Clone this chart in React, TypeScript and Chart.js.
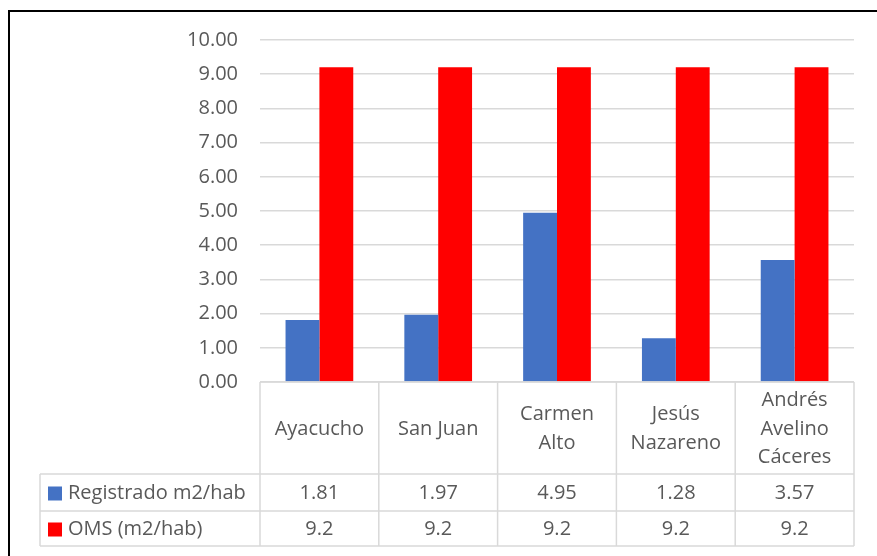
import React, { useEffect, useRef } from "react";
import { Chart, registerables } from "chart.js";

Chart.register(...registerables);

const categories: string[][] = [
  ["Ayacucho"],
  ["San Juan"],
  ["Carmen", "Alto"],
  ["Jesús", "Nazareno"],
  ["Andrés", "Avelino", "Cáceres"],
];
const registrado: number[] = [1.81, 1.97, 4.95, 1.28, 3.57];
const oms: number[] = [9.2, 9.2, 9.2, 9.2, 9.2];
const registradoLabels: string[] = ["1.81", "1.97", "4.95", "1.28", "3.57"];
const omsLabels: string[] = ["9.2", "9.2", "9.2", "9.2", "9.2"];
const seriesNames: string[] = ["Registrado m2/hab", "OMS (m2/hab)"];
const seriesColors: string[] = ["#4472C4", "#FF0000"];

const FONT = "'Open Sans', sans-serif";
const TEXT_COLOR = "#595959";
const LINE_COLOR = "#d9d9d9";

const tablePlugin = {
  id: "dataTable",
  afterDraw(chart: any) {
    const ctx = chart.ctx as CanvasRenderingContext2D;
    const area = chart.chartArea;
    const xs = chart.scales.x;
    const n = categories.length;
    const colW = (area.right - area.left) / n;
    const top = area.bottom;
    const headerBottom = top + 92;
    const row1Bottom = headerBottom + 37;
    const row2Bottom = row1Bottom + 35;
    const legendLeft = 40;

    ctx.save();
    ctx.strokeStyle = LINE_COLOR;
    ctx.lineWidth = 1.5;
    ctx.beginPath();
    ctx.moveTo(area.left, top);
    ctx.lineTo(area.right, top);
    [headerBottom, row1Bottom, row2Bottom].forEach((y) => {
      ctx.moveTo(legendLeft, y);
      ctx.lineTo(area.right, y);
    });
    for (let i = 0; i <= n; i++) {
      const x = area.left + i * colW;
      ctx.moveTo(x, top);
      ctx.lineTo(x, row2Bottom);
    }
    ctx.moveTo(legendLeft, headerBottom);
    ctx.lineTo(legendLeft, row2Bottom);
    ctx.stroke();

    ctx.fillStyle = TEXT_COLOR;
    ctx.font = `20px ${FONT}`;
    ctx.textAlign = "center";
    ctx.textBaseline = "middle";
    const lineH = 28.5;
    const headerMid = (top + headerBottom) / 2 + 1;
    categories.forEach((lines, i) => {
      const cx = xs.getPixelForValue(i);
      const startY = headerMid - ((lines.length - 1) * lineH) / 2;
      lines.forEach((ln, j) => ctx.fillText(ln, cx, startY + j * lineH));
    });
    const r1 = (headerBottom + row1Bottom) / 2 + 1;
    const r2 = (row1Bottom + row2Bottom) / 2 + 1;
    registradoLabels.forEach((t, i) => ctx.fillText(t, xs.getPixelForValue(i), r1));
    omsLabels.forEach((t, i) => ctx.fillText(t, xs.getPixelForValue(i), r2));

    ctx.textAlign = "left";
    [r1, r2].forEach((y, k) => {
      ctx.fillStyle = seriesColors[k];
      ctx.fillRect(48, y - 7, 14, 14);
      ctx.fillStyle = TEXT_COLOR;
      ctx.fillText(seriesNames[k], 68, y);
    });
    ctx.restore();
  },
};

export default function App() {
  const ref = useRef<HTMLCanvasElement | null>(null);
  useEffect(() => {
    if (!ref.current) return;
    const chart = new Chart(ref.current, {
      type: "bar",
      data: {
        labels: categories.map((c) => c.join(" ")),
        datasets: [
          {
            label: seriesNames[0],
            data: registrado,
            backgroundColor: seriesColors[0],
            categoryPercentage: 0.57,
            barPercentage: 1,
          },
          {
            label: seriesNames[1],
            data: oms,
            backgroundColor: seriesColors[1],
            categoryPercentage: 0.57,
            barPercentage: 1,
          },
        ],
      },
      options: {
        animation: false,
        responsive: true,
        maintainAspectRatio: false,
        layout: { padding: { left: 0, right: 23, top: 40, bottom: 174 } },
        plugins: {
          legend: { display: false },
          tooltip: { enabled: false },
        },
        scales: {
          x: { display: false },
          y: {
            min: 0,
            max: 10,
            ticks: {
              stepSize: 1,
              padding: 22,
              color: TEXT_COLOR,
              font: { family: FONT, size: 20 },
              callback: (v: any) => Number(v).toFixed(2),
            },
            grid: { color: LINE_COLOR, lineWidth: 1.5, drawTicks: false },
            border: { display: false },
            afterFit: (axis: any) => {
              axis.width = 260;
            },
          },
        },
      },
      plugins: [tablePlugin],
    });
    return () => chart.destroy();
  }, []);

  return (
    <>
      <div
        style={{
          position: "absolute",
          left: 8,
          top: 10,
          width: 867,
          height: 544,
          borderTop: "2px solid #000",
          borderLeft: "2px solid #000",
          boxSizing: "content-box",
        }}
      />
      <div style={{ position: "absolute", left: 0, top: 0, width: 877, height: 556 }}>
        <canvas ref={ref} />
      </div>
    </>
  );
}
